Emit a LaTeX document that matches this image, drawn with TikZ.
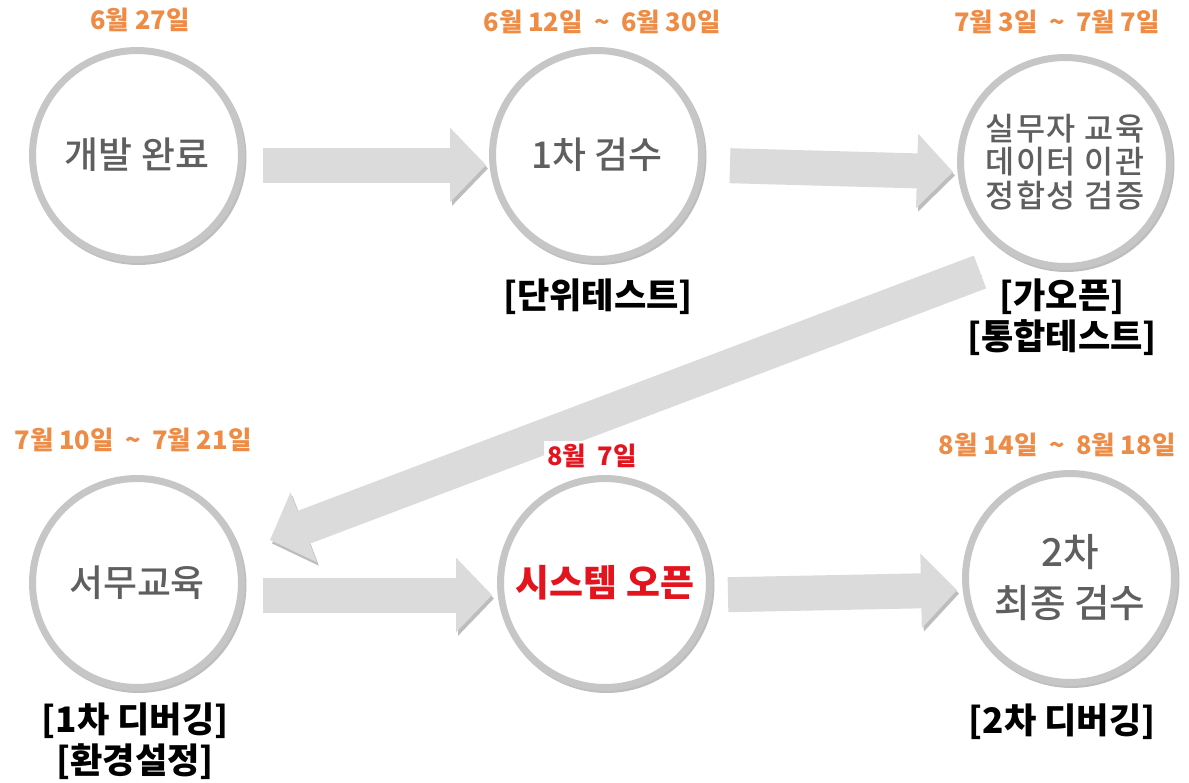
\documentclass[tikz,border=0pt]{standalone}
\usepackage{fontspec}
\setmainfont{Noto Sans CJK KR}
\newfontfamily\stagefont{Noto Sans CJK KR Medium}
\usepackage{tikz}
\usetikzlibrary{positioning,arrows.meta}

\definecolor{ringgray}{HTML}{C6C6C6}
\definecolor{arrowgray}{HTML}{DBDBDB}
\definecolor{shadowgray}{HTML}{BDBDBD}
\definecolor{textgray}{HTML}{5F5F5F}
\definecolor{dateorange}{HTML}{EE8B45}
\definecolor{openred}{HTML}{E3141E}
\newcommand{\upto}{\hspace{0.45em}\textasciitilde\hspace{0.45em}}

\begin{document}
\begin{tikzpicture}[x=0.02cm,y=-0.02cm,
  stage/.style={circle,draw=ringgray,line width=0.14cm,fill=white,minimum size=4.18cm,inner sep=0pt,align=center,text=textgray,
    font=\stagefont\fontsize{21}{25}\selectfont,
    preaction={draw=shadowgray,line width=0.14cm,transform canvas={shift={(0.03cm,-0.04cm)}}}},
  datelabel/.style={text=dateorange,font=\bfseries\fontsize{14.5}{16}\selectfont},
  testlabel/.style={align=center,font=\bfseries\fontsize{20}{23}\selectfont},
  blockarrow/.style={draw=arrowgray,line width=0.7cm,-{Triangle[width=1.45cm,length=0.72cm]},
    preaction={draw=shadowgray,transform canvas={shift={(0.04cm,-0.07cm)}}}}]
\useasboundingbox[fill=white] (0,0) rectangle (1189,782);

% stages
\node[stage] (c1) at (137,155) {개발 완료};
\node[stage] (c2) at (597,155) {1차 검수};
\node[stage,font=\stagefont\fontsize{18}{19.2}\selectfont\addfontfeature{LetterSpace=5}] (c3) at (1065,162) {실무자 교육\\데이터 이관\\정합성 검증};
\node[stage] (c4) at (137,583) {서무교육};
\node[stage,text=openred,font=\bfseries\fontsize{21}{25}\selectfont] (c5) at (605,583) {시스템 오픈};
\node[stage,font=\stagefont\fontsize{22}{29}\selectfont] (c6) at (1070,578) {2차\\최종 검수};

% tests
\node[testlabel] (t2) at (598,297) {[단위테스트]};
\node[testlabel] (t3) at (1062,317) {[가오픈]\\{}[통합테스트]};
\node[testlabel] (t4) at (135,741) {[1차 디버깅]\\{}[환경설정]};
\node[testlabel] (t6) at (1062,722) {[2차 디버깅]};

% flow
\draw[blockarrow,shorten <=0.36cm,shorten >=0.06cm] ([yshift=-0.2cm]c1.east) -- ([yshift=-0.2cm]c2.west);
\draw[blockarrow,shorten <=0.5cm,shorten >=0.08cm] ([yshift=-0.2cm]c2.east) -- ([yshift=-0.2cm]c3.west);
\coordinate (back) at (980,272);
\coordinate (backtip) at (270,540);
\draw[blockarrow] (back) -- (backtip);
\draw[blockarrow,shorten <=0.36cm,shorten >=0.1cm] ([yshift=-0.24cm]c4.east) -- ([yshift=-0.24cm]c5.west);
\draw[blockarrow,shorten <=0.3cm,shorten >=0.1cm] ([yshift=-0.24cm]c5.east) -- ([yshift=-0.24cm]c6.west);

% dates
\node[datelabel] (d1) at (140,20) {6월 27일};
\node[datelabel] (d2) at (602,22) {6월 12일\upto 6월 30일};
\node[datelabel] (d3) at (1057,22) {7월 3일\upto 7월 7일};
\node[datelabel] (d4) at (133,440) {7월 10일\upto 7월 21일};
\node[datelabel,text=openred,fill=white,inner sep=2pt] (d5) at (592,456) {8월\ \ 7일};
\node[datelabel] (d6) at (1057,445) {8월 14일\upto 8월 18일};
\end{tikzpicture}
\end{document}
